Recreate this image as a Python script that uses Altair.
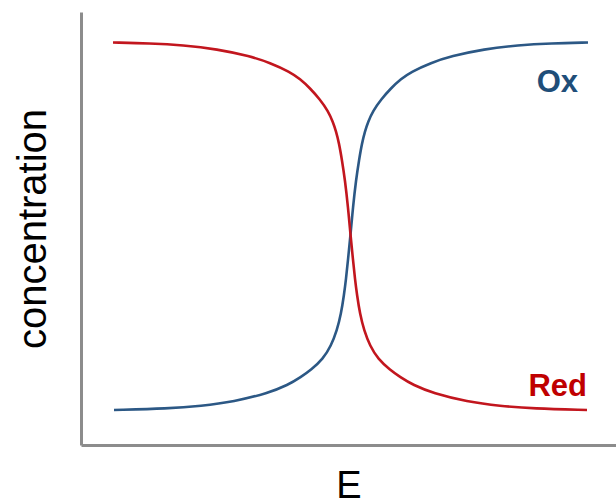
import altair as alt
import pandas as pd

# Electrode potential (arbitrary units, 0 where the two curves cross)
red_E = [-2.375, -2.005, -1.675, -1.335, -1.005, -0.805, -0.605, -0.505, -0.405,
         -0.305, -0.225, -0.175, -0.145, -0.115, -0.085, -0.055, -0.025, 0.0,
         0.025, 0.045, 0.065, 0.095, 0.135, 0.195, 0.275, 0.395, 0.495, 0.625,
         0.825, 1.165, 1.495, 1.825, 2.365]
# Fraction of the reduced form
red_c = [0.999, 0.997, 0.992, 0.981, 0.962, 0.944, 0.919, 0.900, 0.875,
         0.844, 0.813, 0.783, 0.758, 0.726, 0.679, 0.625, 0.552, 0.476,
         0.408, 0.356, 0.313, 0.261, 0.217, 0.174, 0.139, 0.109, 0.090, 0.068,
         0.046, 0.023, 0.011, 0.004, 0.000]

ox_E = [-2.365, -1.825, -1.495, -1.165, -0.825, -0.625, -0.495, -0.395, -0.275,
        -0.195, -0.135, -0.095, -0.065, -0.045, -0.025, 0.0, 0.025, 0.055,
        0.085, 0.115, 0.145, 0.175, 0.225, 0.305, 0.405, 0.505, 0.605, 0.805,
        1.005, 1.335, 1.675, 2.005, 2.375]
# Fraction of the oxidised form
ox_c = [0.000, 0.004, 0.011, 0.023, 0.046, 0.068, 0.090, 0.109, 0.139,
        0.174, 0.217, 0.261, 0.313, 0.356, 0.408, 0.476, 0.552, 0.625,
        0.679, 0.726, 0.758, 0.783, 0.813, 0.844, 0.875, 0.900, 0.919, 0.944,
        0.962, 0.981, 0.992, 0.997, 0.999]

species = ["Ox", "Red"]
line_colors = ["#2c5885", "#c2161e"]
text_colors = ["#1f4e79", "#c00000"]

# Label anchors (right-aligned, on the text baseline)
label_E = [2.275, 2.365]
label_c = [0.864, 0.038]

curves = pd.concat([
    pd.DataFrame({"E": ox_E, "c": ox_c, "species": "Ox"}),
    pd.DataFrame({"E": red_E, "c": red_c, "species": "Red"}),
])
labels = pd.DataFrame({"E": label_E, "c": label_c, "species": species})

x_enc = alt.X("E:Q", title="E",
              scale=alt.Scale(domain=[-2.695, 2.655], nice=False, zero=False),
              axis=alt.Axis(labels=False, ticks=False, grid=False,
                            domainColor="#8c8c8c", domainWidth=3,
                            titleFont="Liberation Sans", titleFontSize=38,
                            titleFontWeight="normal", titleColor="#000000",
                            titlePadding=22))
y_enc = alt.Y("c:Q", title="concentration",
              scale=alt.Scale(domain=[-0.095, 1.082], nice=False, zero=False),
              axis=alt.Axis(labels=False, ticks=False, grid=False,
                            domainColor="#8c8c8c", domainWidth=3,
                            titleFont="Liberation Sans", titleFontSize=40,
                            titleFontWeight="normal", titleColor="#000000",
                            titlePadding=28))

lines = alt.Chart(curves).mark_line(strokeWidth=2.6, interpolate="basis").encode(
    x=x_enc,
    y=y_enc,
    color=alt.Color("species:N", scale=alt.Scale(domain=species, range=line_colors), legend=None),
    order=alt.Order("E:Q"),
)

text = alt.Chart(labels).mark_text(
    align="right", baseline="alphabetic", font="Liberation Sans",
    fontSize=31, fontWeight="bold",
).encode(
    x="E:Q",
    y="c:Q",
    text="species:N",
    color=alt.Color("species:N", scale=alt.Scale(domain=species, range=text_colors), legend=None),
)

chart = alt.layer(lines, text).resolve_scale(color="independent").properties(
    width=535,
    height=433,
    padding={"left": 81, "top": 12, "right": 0, "bottom": 57},
    autosize=alt.AutoSizeParams(type="none"),
    background="#ffffff",
).configure_view(stroke=None)

chart.save("out.html", embed_options={"renderer": "svg", "actions": False})
